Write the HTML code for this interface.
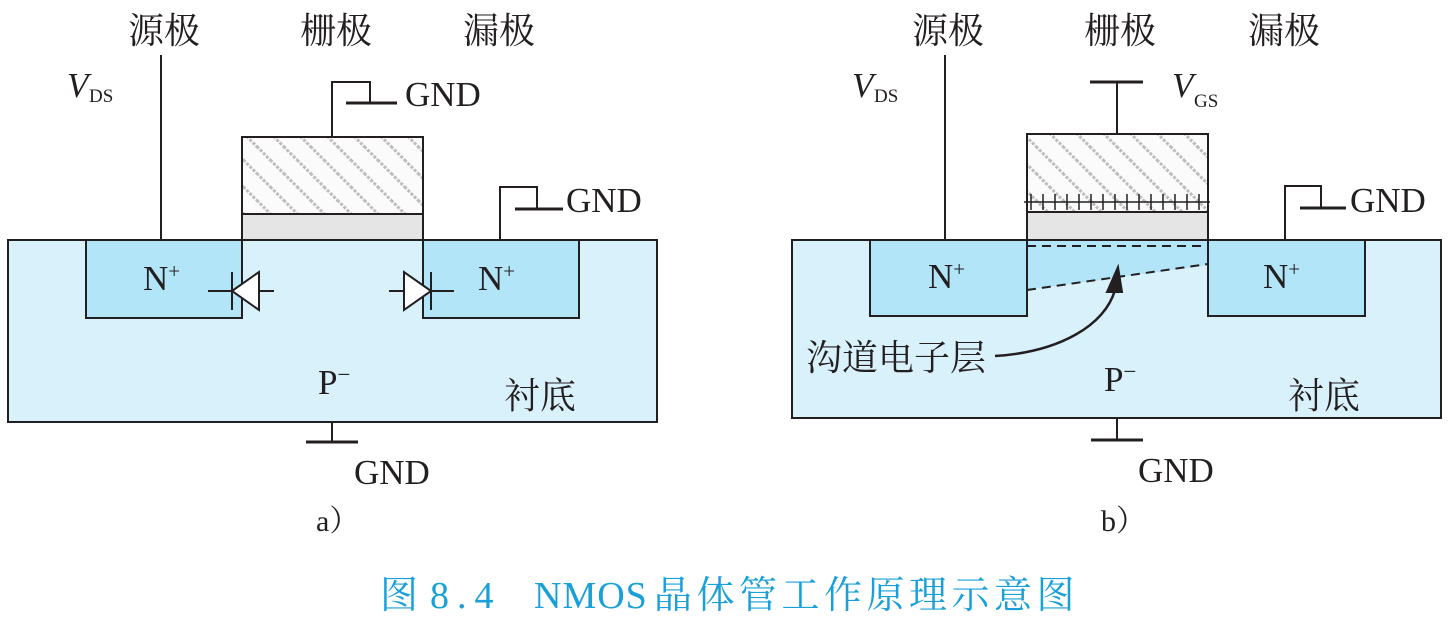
<!DOCTYPE html>
<html><head><meta charset="utf-8"><style>
body{margin:0;background:#fff;}
svg text{font-family:"Liberation Serif","Noto Serif CJK SC",serif;fill:#231f20;}
</style></head><body>
<svg width="1451" height="622" viewBox="0 0 1451 622" xmlns="http://www.w3.org/2000/svg">
<defs>
<pattern id="h" width="19" height="19" patternUnits="userSpaceOnUse" patternTransform="rotate(-45)">
<rect width="19" height="19" fill="#fbfbfb"/>
<line x1="2" y1="0" x2="2" y2="19" stroke="#bdbdbd" stroke-width="3" stroke-dasharray="3 1.5"/>
</pattern>
</defs>
<g stroke="#231f20" stroke-width="2" fill="none">
<!-- Panel a -->
<rect x="8" y="240" width="649" height="182" fill="#d9f1fb"/>
<rect x="86" y="240" width="156" height="78" fill="#b3e5f8"/>
<rect x="423" y="240" width="156" height="78" fill="#b3e5f8"/>
<rect x="242" y="137" width="181" height="77" fill="url(#h)"/>
<rect x="242" y="214" width="181" height="26" fill="#e5e5e5"/>
<line x1="161" y1="55" x2="161" y2="240"/>
<polyline points="332,137 332,82 370,82 370,103"/>
<line x1="346" y1="103" x2="397" y2="103" stroke-width="3"/>
<polyline points="500,240 500,187 537,187 537,209"/>
<line x1="515" y1="209" x2="563" y2="209" stroke-width="3"/>
<line x1="332" y1="422" x2="332" y2="442"/>
<line x1="306" y1="442" x2="358" y2="442" stroke-width="3"/>
<line x1="208" y1="291" x2="274" y2="291"/>
<line x1="232" y1="272" x2="232" y2="310"/>
<polygon points="232,291 259,272 259,310" fill="#fff"/>
<line x1="389" y1="291" x2="454" y2="291"/>
<line x1="431" y1="272" x2="431" y2="310"/>
<polygon points="431,291 404,272 404,310" fill="#fff"/>
<!-- Panel b -->
<rect x="792" y="240" width="649" height="178" fill="#d9f1fb"/>
<polygon points="1027,240 1208,240 1208,265 1027,290" fill="#b3e5f8" stroke="none"/>
<rect x="870" y="240" width="157" height="76" fill="#b3e5f8"/>
<rect x="1208" y="240" width="157" height="76" fill="#b3e5f8"/>
<rect x="1027" y="134" width="181" height="78" fill="url(#h)"/>
<rect x="1027" y="212" width="181" height="28" fill="#e5e5e5"/>
<line x1="1027" y1="246" x2="1208" y2="246" stroke-dasharray="9 6"/>
<line x1="1027" y1="290" x2="1208" y2="264" stroke-dasharray="9 6"/>
<line x1="1024" y1="202" x2="1210" y2="202" stroke-width="1.5"/>
<path d="M1031 194v16M1043 194v16M1055 194v16M1067 194v16M1079 194v16M1091 194v16M1103 194v16M1115 194v16M1127 194v16M1139 194v16M1151 194v16M1163 194v16M1175 194v16M1187 194v16M1199 194v16" stroke-width="1.5"/>
<line x1="945" y1="55" x2="945" y2="240"/>
<line x1="1117" y1="82" x2="1117" y2="134"/>
<line x1="1090" y1="82" x2="1143" y2="82" stroke-width="3"/>
<polyline points="1285,240 1285,186 1321,186 1321,208"/>
<line x1="1300" y1="208" x2="1346" y2="208" stroke-width="3"/>
<line x1="1117" y1="418" x2="1117" y2="440"/>
<line x1="1091" y1="440" x2="1143" y2="440" stroke-width="3"/>
<path d="M995 356 C1060 352 1105 325 1115 290" stroke-width="2.5"/>
<polygon points="1118,267 1107,292 1122,292" fill="#231f20"/>
</g>
<g font-size="36">
<text x="128" y="43">源极</text><text x="300" y="43">栅极</text><text x="463" y="43">漏极</text>
<text x="912" y="43">源极</text><text x="1084" y="43">栅极</text><text x="1248" y="43">漏极</text>
<text x="504" y="408">衬底</text><text x="1288" y="408">衬底</text>
<text x="806" y="370">沟道电子层</text>
</g>
<g font-size="35">
<text x="405" y="106">GND</text><text x="566" y="212">GND</text><text x="354" y="484">GND</text>
<text x="1350" y="212">GND</text><text x="1138" y="482">GND</text>
<text x="67" y="97" font-style="italic">V</text><text x="89" y="102" font-size="19">DS</text>
<text x="852" y="97" font-style="italic">V</text><text x="874" y="102" font-size="19">DS</text>
<text x="1172" y="97" font-style="italic">V</text><text x="1194" y="107" font-size="19">GS</text>
<text x="143" y="290">N<tspan font-size="21" dy="-12">+</tspan></text>
<text x="478" y="290">N<tspan font-size="21" dy="-12">+</tspan></text>
<text x="928" y="288">N<tspan font-size="21" dy="-12">+</tspan></text>
<text x="1263" y="288">N<tspan font-size="21" dy="-12">+</tspan></text>
<text x="318" y="394">P<tspan font-size="23" dy="-12">−</tspan></text>
<text x="1104" y="391">P<tspan font-size="23" dy="-12">−</tspan></text>
<text x="316" y="531" font-size="30">a）</text>
<text x="1101" y="531" font-size="30">b）</text>
</g>
<g font-size="38" style="fill:#1aa0d8">
<text x="380" y="608" style="fill:#1aa0d8">图</text>
<text x="430" y="608" style="fill:#1aa0d8" letter-spacing="8">8.4</text>
<text x="534" y="608" style="fill:#1aa0d8" letter-spacing="1">NMOS</text>
<text x="654" y="608" style="fill:#1aa0d8" letter-spacing="4.5">晶体管工作原理示意图</text>
</g>
</svg>
</body></html>
